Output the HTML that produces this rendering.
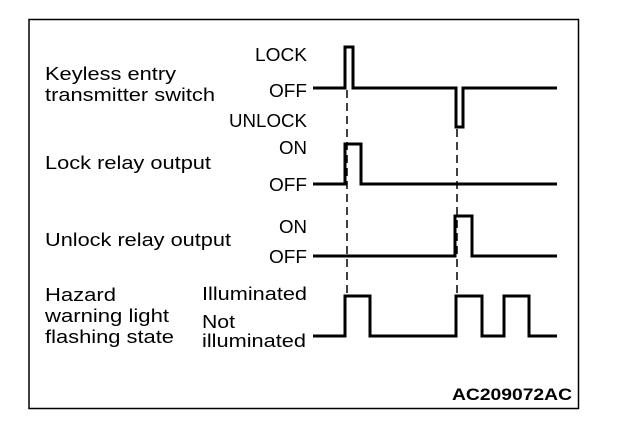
<!DOCTYPE html>
<html><head><meta charset="utf-8"><style>
html,body{margin:0;padding:0;background:#fff;}
svg{display:block;}
text{font-family:"Liberation Sans",Arial,sans-serif;font-size:18px;fill:#000;}
</style></head><body>
<svg width="624" height="426" viewBox="0 0 624 426" xmlns="http://www.w3.org/2000/svg">
<rect x="29" y="19.5" width="549.5" height="389" fill="none" stroke="#000" stroke-width="1.5"/>
<g fill="none" stroke="#000" stroke-width="3" stroke-linejoin="miter">
<polyline points="313,88 345,88 345,47 353,47 353,88 456,88 456,127 463,127 463,88 557,88"/>
<polyline points="313,184 345,184 345,144 361,144 361,184 557,184"/>
<polyline points="313,256 455,256 455,216 472,216 472,256 557,256"/>
<polyline points="313,336 345,336 345,296 370,296 370,336 456,336 456,296 482,296 482,336 504,336 504,296 529,296 529,336 557,336"/>
</g>
<g stroke="#000" stroke-width="1.5" stroke-dasharray="8,5">
<line x1="347" y1="90" x2="347" y2="296"/>
<line x1="457" y1="129" x2="457" y2="296"/>
</g>
<text x="45" y="80" textLength="131" lengthAdjust="spacingAndGlyphs">Keyless entry</text>
<text x="45" y="101" textLength="170" lengthAdjust="spacingAndGlyphs">transmitter switch</text>
<text x="45" y="169" textLength="166" lengthAdjust="spacingAndGlyphs">Lock relay output</text>
<text x="45" y="246" textLength="186" lengthAdjust="spacingAndGlyphs">Unlock relay output</text>
<text x="45" y="301" textLength="71" lengthAdjust="spacingAndGlyphs">Hazard</text>
<text x="45" y="322" textLength="124" lengthAdjust="spacingAndGlyphs">warning light</text>
<text x="45" y="343" textLength="129" lengthAdjust="spacingAndGlyphs">flashing state</text>
<text x="255" y="61" textLength="52" lengthAdjust="spacingAndGlyphs">LOCK</text>
<text x="269" y="97" textLength="38" lengthAdjust="spacingAndGlyphs">OFF</text>
<text x="229" y="127" textLength="78" lengthAdjust="spacingAndGlyphs">UNLOCK</text>
<text x="279" y="154" textLength="28" lengthAdjust="spacingAndGlyphs">ON</text>
<text x="269" y="191" textLength="38" lengthAdjust="spacingAndGlyphs">OFF</text>
<text x="279" y="233" textLength="28" lengthAdjust="spacingAndGlyphs">ON</text>
<text x="269" y="263" textLength="38" lengthAdjust="spacingAndGlyphs">OFF</text>
<text x="202" y="300" textLength="105" lengthAdjust="spacingAndGlyphs">Illuminated</text>
<text x="202" y="328" textLength="33" lengthAdjust="spacingAndGlyphs">Not</text>
<text x="202" y="347" textLength="104" lengthAdjust="spacingAndGlyphs">illuminated</text>
<text x="452" y="400" textLength="120" lengthAdjust="spacingAndGlyphs" style="font-weight:bold;font-size:17px">AC209072AC</text>
</svg>
</body></html>
